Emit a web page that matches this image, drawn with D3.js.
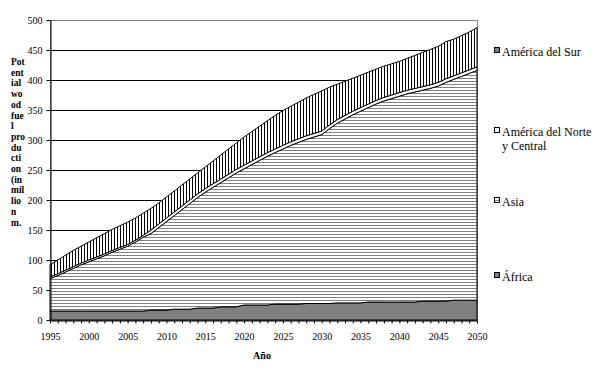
<!DOCTYPE html>
<html>
<head>
<meta charset="utf-8">
<script src="https://d3js.org/d3.v7.min.js"></script>
<style>
  body { margin: 0; background: #fff; }
  text { font-family: "Liberation Serif", "Times New Roman", serif; fill: #000; }
</style>
</head>
<body>
<div id="my_dataviz"></div>
<script>

// years on the x axis (one point per year)
var years = d3.range(1995, 2051);
var xTickLabels = [1995, 2000, 2005, 2010, 2015, 2020, 2025, 2030, 2035, 2040, 2045, 2050];
var yTicks = [0, 50, 100, 150, 200, 250, 300, 350, 400, 450, 500];

// series, bottom to top of the stack
var seriesNames = ["África", "Asia", "América del Norte y Central", "América del Sur"];

var africa = [15,15,15,15,15,15,15,15,15,15,15,15,15,16.5,16.5,16.5,18,18,18,20,
              20,20,22,22,22,25,25,25,25,26.5,26.5,26.5,26.5,27.5,27.5,27.5,27.5,28.5,28.5,28.5,
              28.5,30,30,30,30,30,30,30,31.5,31.5,31.5,31.5,33,33,33,33];
var asia   = [54,59,65,71,77,82,87,92,98,103,108,115,123,127.5,137.5,147.5,156,166,176,184,
              193,201,207,215,223,227,234,241,248,252.5,258.5,264.5,269.5,273.5,277.5,281.5,291.5,299.5,306.5,313.5,
              319.5,324,330,335,339,343,347,350,351.5,354.5,358.5,364.5,368,373,378,383];
var norte  = [3,3,3,3,3,3,3,3,3,3,3,3,3,6,6,6,6,6,6,6,
              6,6,6,6,6,6,6,6,6,6,6,6,6,6,6,6,6,6,6,6,
              6,6,6,6,6,6,6,6,6,6,6,6,6,6,6,6];
var sur    = [20,23,25,27,28,30,32,34,35,36,37,37,37,36,35,35,35,35,35,35,
              36,38,40,42,44,47,49,51,53,56,58,59,61,63,65,67,63,59,57,55,
              54,53,52,52,52,52,53,55,57,59,60,62,61,62,63,65];

var yLabelLines = ["Pot","ent","ial","wo","od","fue","l","pro","du","cti","on","(in","mil","lio","n","m."];

// plot box
var plotLeft = 50, plotRight = 477, plotTop = 20, plotBottom = 320;

var svg = d3.select("#my_dataviz")
  .append("svg")
    .attr("width", 604)
    .attr("height", 371);

// fill patterns
var defs = svg.append("defs");
var vp = defs.append("pattern")
  .attr("id", "vstripe").attr("patternUnits", "userSpaceOnUse")
  .attr("width", 3).attr("height", 3);
vp.append("rect").attr("width", 3).attr("height", 3).attr("fill", "#fff");
vp.append("rect").attr("width", 1).attr("height", 3).attr("fill", "#000");

var hp = defs.append("pattern")
  .attr("id", "hstripe").attr("patternUnits", "userSpaceOnUse")
  .attr("width", 3).attr("height", 3);
hp.append("rect").attr("width", 3).attr("height", 3).attr("fill", "#fff");
hp.append("rect").attr("width", 3).attr("height", 1).attr("fill", "#808080");

var fills = {
  "África": "#808080",
  "Asia": "url(#hstripe)",
  "América del Norte y Central": "#fff",
  "América del Sur": "url(#vstripe)"
};
var swatchFills = {
  "África": "#808080",
  "Asia": "url(#hstripe)",
  "América del Norte y Central": "#fff",
  "América del Sur": "#808080"
};

var x = d3.scaleLinear().domain([1995, 2050]).range([plotLeft, plotRight]);
var y = d3.scaleLinear().domain([0, 500]).range([plotBottom, plotTop]);

// plot area border (grey) and gridlines (black)
svg.append("rect")
  .attr("x", plotLeft + 0.5).attr("y", plotTop + 0.5)
  .attr("width", plotRight - plotLeft).attr("height", plotBottom - plotTop)
  .attr("fill", "none").attr("stroke", "#808080");

svg.selectAll("grid")
  .data(yTicks.filter(function(d){ return d > 0 && d < 500; }))
  .enter()
  .append("line")
    .attr("x1", plotLeft).attr("x2", plotRight)
    .attr("y1", function(d){ return Math.round(y(d)) + 0.5; })
    .attr("y2", function(d){ return Math.round(y(d)) + 0.5; })
    .attr("stroke", "#000");

// stacked data
var table = years.map(function(yr, i) {
  return {
    year: yr,
    "África": africa[i],
    "Asia": asia[i],
    "América del Norte y Central": norte[i],
    "América del Sur": sur[i]
  };
});

var stacked = d3.stack().keys(seriesNames)(table);

var area = d3.area()
  .x(function(d){ return x(d.data.year); })
  .y0(function(d){ return y(d[0]); })
  .y1(function(d){ return y(d[1]); });

svg.selectAll("layers")
  .data(stacked)
  .enter()
  .append("path")
    .attr("d", area)
    .attr("fill", function(d){ return fills[d.key]; })
    .attr("stroke", "#000")
    .attr("stroke-width", 1);

// axes
svg.append("g")
  .attr("transform", "translate(0," + (plotBottom + 0.5) + ")")
  .call(d3.axisBottom(x)
    .tickValues(years)
    .tickSize(3)
    .tickSizeOuter(0)
    .tickPadding(9)
    .tickFormat(function(d){ return xTickLabels.indexOf(d) >= 0 ? d : ""; }))
  .call(function(g){
    g.select(".domain").attr("stroke", "#000");
    g.selectAll("text").style("font-size", "10px").attr("font-family", null);
  });

svg.append("g")
  .attr("transform", "translate(" + (plotLeft + 0.5) + ",0)")
  .call(d3.axisLeft(y)
    .tickValues(yTicks)
    .tickSize(4)
    .tickSizeOuter(0)
    .tickPadding(4))
  .call(function(g){
    g.selectAll(".tick").attr("transform", function(d){ return "translate(0," + (Math.round(y(d)) + 0.5) + ")"; });
    g.selectAll("text").style("font-size", "10px").attr("font-family", null);
  });

// axis titles
svg.append("text")
  .attr("x", 262).attr("y", 359)
  .attr("text-anchor", "middle")
  .style("font-size", "10px").style("font-weight", "bold")
  .text("Año");

svg.append("g")
  .selectAll("text")
  .data(yLabelLines)
  .enter()
  .append("text")
    .attr("x", 11)
    .attr("y", function(d, i){ return 65 + i * 10.7; })
    .style("font-size", "9.5px").style("font-weight", "bold")
    .text(function(d){ return d; });

// legend
var legendItems = [
  {name: "América del Sur", lines: ["América del Sur"], y: 50},
  {name: "América del Norte y Central", lines: ["América del Norte", "y Central"], y: 130},
  {name: "Asia", lines: ["Asia"], y: 200},
  {name: "África", lines: ["África"], y: 275}
];

var legend = svg.selectAll("legend")
  .data(legendItems)
  .enter()
  .append("g")
    .attr("transform", function(d){ return "translate(494," + d.y + ")"; });

legend.append("rect")
  .attr("x", 0.5).attr("y", -2.5)
  .attr("width", 5).attr("height", 5)
  .attr("fill", function(d){ return swatchFills[d.name]; })
  .attr("stroke", "#000");

legend.each(function(d){
  var g = d3.select(this);
  d.lines.forEach(function(t, i){
    g.append("text")
      .attr("x", 8)
      .attr("y", 6 + i * 14)
      .style("font-size", "12px")
      .text(t);
  });
});

</script>
</body>
</html>
